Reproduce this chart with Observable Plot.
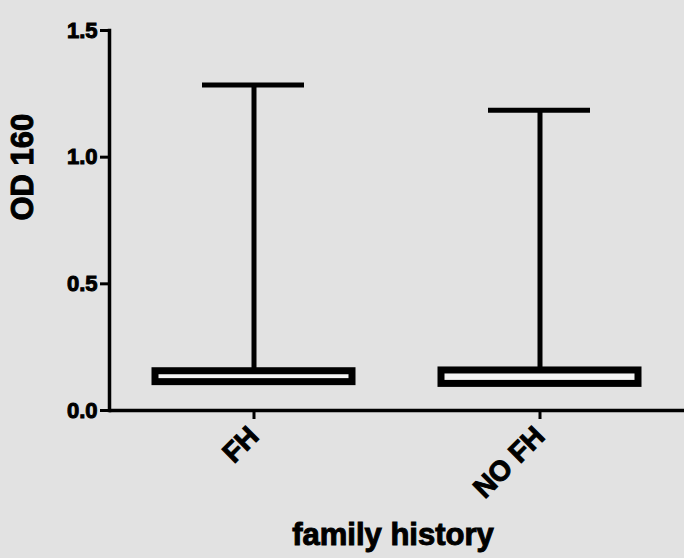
<!DOCTYPE html>
<html>
<head>
<meta charset="utf-8">
<script src="https://cdn.jsdelivr.net/npm/d3@7"></script>
<script src="https://cdn.jsdelivr.net/npm/@observablehq/plot@0.6"></script>
<style>
  html, body { margin: 0; padding: 0; background: #e2e2e2; }
  #chart svg text { stroke: #000; stroke-width: 1px; paint-order: stroke; }
</style>
</head>
<body>
<div id="chart"></div>
<script>
// Data
const categories = ["FH", "NO FH"];
const q1Values = [0.112, 0.105];
const q3Values = [0.155, 0.158];
const maxValues = [1.285, 1.185];
const yTicks = [0, 0.5, 1.0, 1.5];
const yLabel = "OD 160";
const xLabel = "family history";

const boxes = categories.map((c, i) => ({cat: c, q1: q1Values[i], q3: q3Values[i], max: maxValues[i]}));

const chart = Plot.plot({
  width: 684,
  height: 558,
  marginLeft: 109,
  marginRight: 0,
  marginTop: 30,
  marginBottom: 148,
  style: {
    background: "#e2e2e2",
    fontFamily: "'Liberation Sans', Arial, sans-serif",
    fontWeight: "bold",
    color: "#000"
  },
  x: {type: "band", domain: categories, paddingInner: 0.31, paddingOuter: 0.16, label: null},
  y: {domain: [0, 1.5], label: null},
  marks: [
    Plot.frame({anchor: "left", stroke: "#000", strokeWidth: 3.5}),
    Plot.ruleY([0], {stroke: "#000", strokeWidth: 3.5}),
    Plot.ruleX(boxes, {x: "cat", y1: "q3", y2: "max", stroke: "#000", strokeWidth: 5}),
    Plot.tickY(boxes, {x: "cat", y: "max", stroke: "#000", strokeWidth: 5, insetLeft: 47, insetRight: 48}),
    Plot.barY(boxes, {x: "cat", y1: "q1", y2: "q3", fill: "#f4f4f4", stroke: "#000", strokeWidth: 7}),
    Plot.axisY({ticks: yTicks, tickFormat: d3.format(".1f"), tickSize: 9, tickPadding: 3, strokeWidth: 3, fontSize: 22, label: null}),
    Plot.axisX({tickSize: 9, tickPadding: 12, tickRotate: -45, strokeWidth: 3, fontSize: 28, label: null}),
    Plot.text([yLabel], {frameAnchor: "left", rotate: -90, dx: -86, fontSize: 31, fill: "#000"}),
    Plot.text([xLabel], {frameAnchor: "bottom", dx: -4, dy: 134, fontSize: 31, fill: "#000"})
  ]
});
document.getElementById("chart").appendChild(chart);
</script>
</body>
</html>
